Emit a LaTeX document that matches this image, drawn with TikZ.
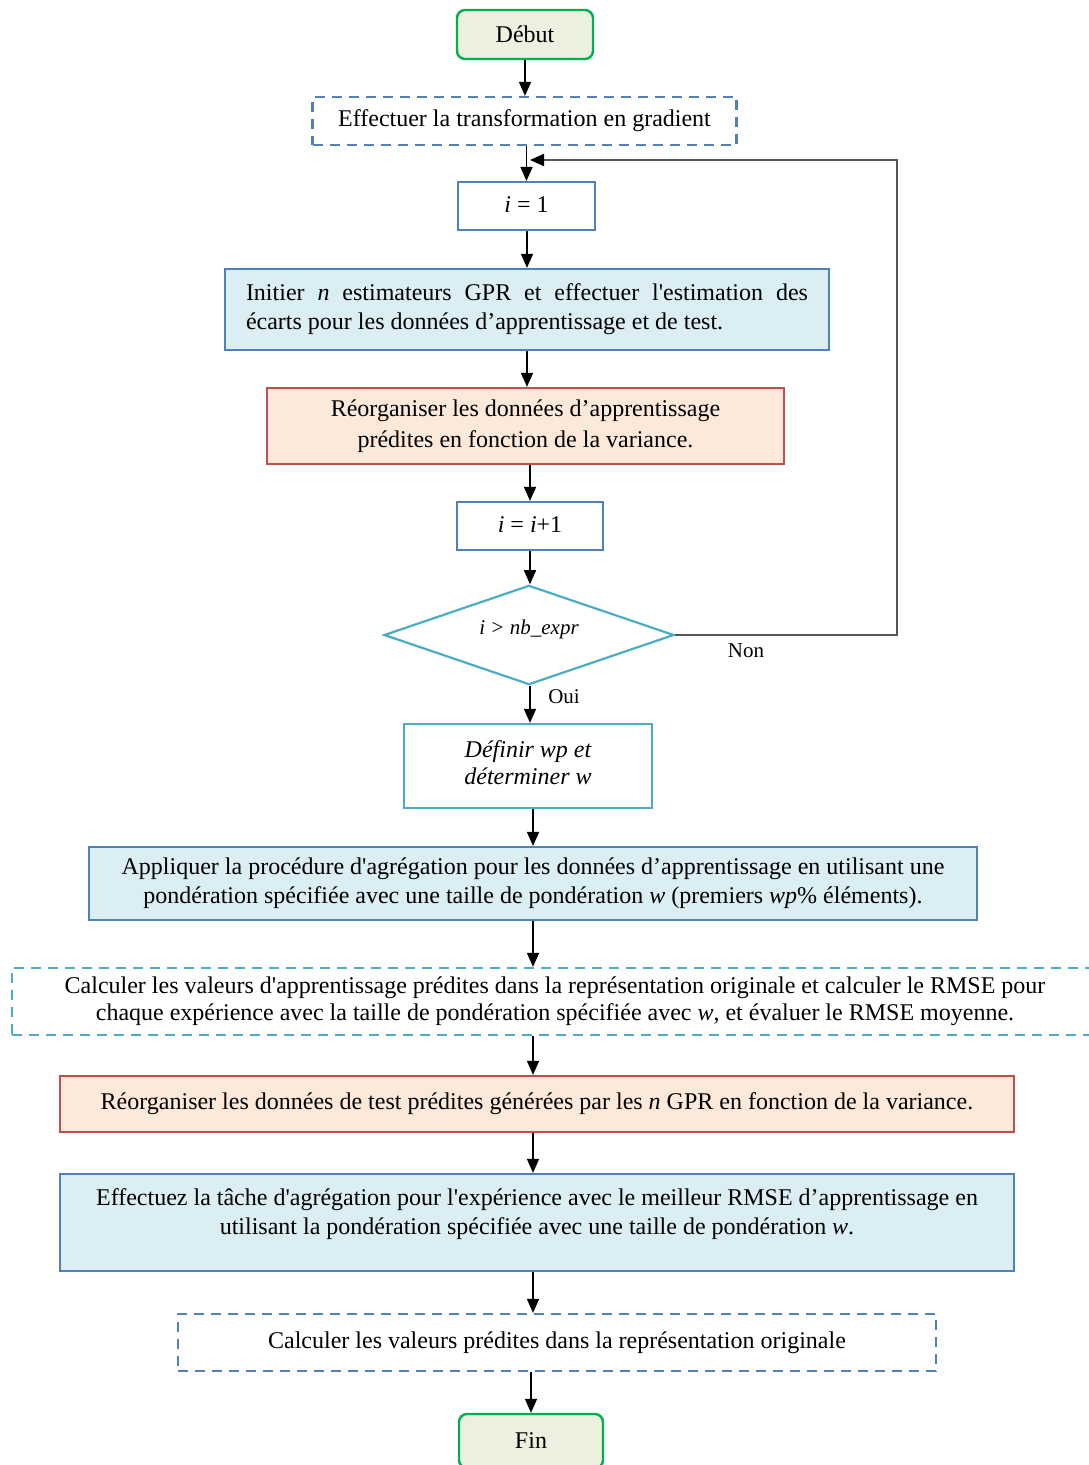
\documentclass[tikz,border=0pt]{standalone}
\usepackage{fontspec}
\setmainfont{Liberation Serif}[Ligatures=TeXOff]
\usetikzlibrary{shapes.geometric,arrows.meta}
\definecolor{gborder}{HTML}{00B050}
\definecolor{gfill}{HTML}{EBF1DE}
\definecolor{bborder}{HTML}{4F81BD}
\definecolor{bfill}{HTML}{DBEEF4}
\definecolor{rborder}{HTML}{C0504D}
\definecolor{rfill}{HTML}{FDE9D9}
\definecolor{cborder}{HTML}{4BACC6}
\definecolor{loopcol}{HTML}{555555}
\begin{document}
\begin{tikzpicture}[x=1pt,y=-1pt,
  every node/.style={font=\fontsize{24}{29}\selectfont, inner sep=0pt, text=black},
  startend/.style={draw=gborder, fill=gfill, line width=2.4pt, rounded corners=8pt},
  boxb/.style={draw=bborder, line width=2.2pt},
  boxr/.style={draw=rborder, fill=rfill, line width=2.2pt},
  boxc/.style={draw=cborder, fill=white, line width=2.2pt},
  dashb/.style={draw=bborder, line width=2.2pt, dash pattern=on 10pt off 7pt},
  dashc/.style={draw=cborder, line width=2.2pt, dash pattern=on 10pt off 7pt},
  arr/.style={-{Triangle[length=14pt,width=12pt]}, line width=1.5pt, draw=black},
  looparr/.style={-{Triangle[length=14pt,width=12pt,color=black]}, line width=2pt, draw=loopcol},
  lbl/.style={font=\fontsize{21}{25}\selectfont}
]
\useasboundingbox (0,0) rectangle (1089,1465);

\node[startend, minimum width=136pt, minimum height=49pt] (debut) at (525,34.5) {Début};
\node[dashb, minimum width=424pt, minimum height=48pt] (grad) at (524.5,121) {Effectuer la transformation en gradient};
\node[boxb, fill=white, minimum width=137pt, minimum height=48pt] (i1) at (526.5,206) {\raisebox{3pt}{\textit{i} = 1}};
\node[boxb, fill=bfill, minimum width=604pt, minimum height=81pt, text width=562pt, align=justify] (init) at (527,309.5)
  {Initier \textit{n} estimateurs GPR et effectuer l'estimation des\linebreak écarts pour les données d’apprentissage et de test.};
\node[boxr, minimum width=517pt, minimum height=76pt, align=center, font=\fontsize{24}{31}\selectfont] (reorg1) at (525.5,426)
  {Réorganiser les données d’apprentissage\\prédites en fonction de la variance.};
\node[boxb, fill=white, minimum width=146pt, minimum height=48pt] (inc) at (530,526) {\raisebox{2pt}{\textit{i} = \textit{i}+1}};
\node[diamond, draw=cborder, fill=white, line width=2.2pt, minimum width=290pt, minimum height=96pt,
  font=\fontsize{21}{24}\selectfont\itshape] (test) at (529,635) {\smash{\raisebox{1pt}{i > nb\_expr}}};
\node[boxc, minimum width=248pt, minimum height=84pt, font=\fontsize{24}{27}\selectfont\itshape] (def) at (528,766)
  {\raisebox{4pt}{\begin{tabular}{@{}c@{}}Définir wp et\\déterminer w\end{tabular}}};
\node[boxb, fill=bfill, minimum width=888pt, minimum height=73pt, align=center] (appl) at (533,883.5)
  {Appliquer la procédure d'agrégation pour les données d’apprentissage en utilisant une\\pondération spécifiée avec une taille de pondération \textit{w} (premiers \textit{wp}\% éléments).};
\node[dashc, minimum width=1086pt, minimum height=67pt, align=center, font=\fontsize{24}{27}\selectfont] (calc) at (555,1001.5)
  {Calculer les valeurs d'apprentissage prédites dans la représentation originale et calculer le RMSE pour\\chaque expérience avec la taille de pondération spécifiée avec \textit{w}, et évaluer le RMSE moyenne.};
\node[boxr, minimum width=954pt, minimum height=56pt] (reorg2) at (537,1104)
  {Réorganiser les données de test prédites générées par les \textit{n} GPR en fonction de la variance.};
\node[boxb, fill=bfill, minimum width=954pt, minimum height=97pt] (eff) at (537,1222.5) {};
\node[align=center] (effT) at (537,1214)
  {Effectuez la tâche d'agrégation pour l'expérience avec le meilleur RMSE d’apprentissage en\\utilisant la pondération spécifiée avec une taille de pondération \textit{w}.};
\node[dashb, minimum width=758pt, minimum height=57pt] (final) at (557,1342.5) {Calculer les valeurs prédites dans la représentation originale};
\node[startend, minimum width=144pt, minimum height=54pt] (fin) at (531,1441) {Fin};

\node[lbl] (oui) at (564,697) {Oui};
\node[lbl] (non) at (746,651) {Non};

\draw[arr] (debut) -- (debut |- grad.north);
\draw[arr] (i1 |- grad.south) -- (i1.north);
\draw[arr] (init |- i1.south) -- (init.north);
\draw[arr] (init.south) -- (init.south |- reorg1.north);
\draw[arr] (inc |- reorg1.south) -- (inc.north);
\draw[arr] (inc.south) -- (inc.south |- test.north);
\draw[arr] (inc |- test.south) -- (inc |- def.north);
\draw[arr] (appl |- def.south) -- (appl.north);
\draw[arr] (appl.south) -- (appl.south |- calc.north);
\draw[arr] (appl |- calc.south) -- (appl |- reorg2.north);
\draw[arr] (appl |- reorg2.south) -- (appl |- eff.north);
\draw[arr] (appl |- eff.south) -- (appl |- final.north);
\draw[arr] (fin |- final.south) -- (fin.north);

\coordinate (loopc) at (897,160);
\draw[looparr] (test.east) -| (loopc) -- ([xshift=3.5pt]i1.north |- loopc);
\end{tikzpicture}
\end{document}
